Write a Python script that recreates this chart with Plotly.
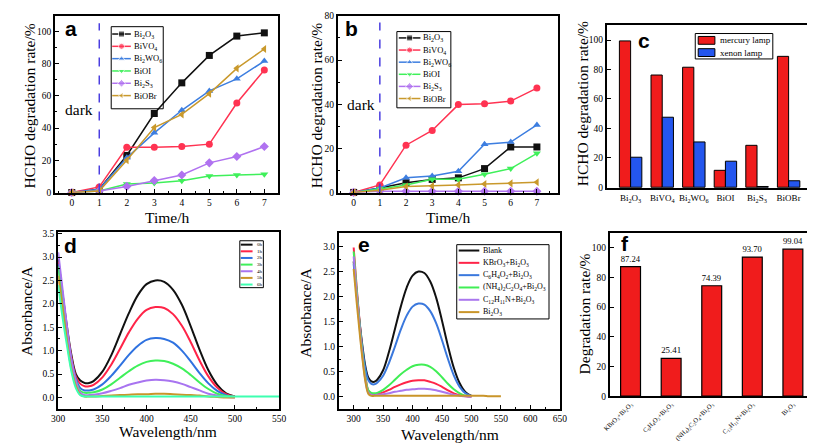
import plotly.graph_objects as go

W, H = 815, 444

# ---- data: (a) mercury lamp, (b) xenon lamp ----
hours = [0, 1, 2, 3, 4, 5, 6, 7]
catalysts = ["Bi<sub>2</sub>O<sub>3</sub>", "BiVO<sub>4</sub>", "Bi<sub>2</sub>WO<sub>6</sub>",
             "BiOI", "Bi<sub>2</sub>S<sub>3</sub>", "BiOBr"]

hg_bi2o3 = [0, 2, 23, 49, 68, 85, 97, 99]
hg_bivo4 = [0, 3.5, 28, 28, 28.5, 30, 55.5, 76]
hg_bi2wo6 = [0, 2, 21.5, 37, 51, 63, 70.5, 81.5]
hg_bioi = [0, 1, 5.3, 5.9, 7.3, 10.3, 10.9, 11.3]
hg_bi2s3 = [0, 1, 3.8, 7.5, 10.9, 18.4, 22.3, 28.5]
hg_biobr = [0, 1, 20, 40.3, 48.4, 61.3, 77, 89]

xe_bi2o3 = [0, 2, 4.4, 5.9, 6.6, 10.8, 20.6, 20.6]
xe_bivo4 = [0, 3.4, 21.4, 28.1, 39.8, 40.2, 41.4, 47.3]
xe_bi2wo6 = [0, 2, 6.6, 7.4, 9.6, 21.8, 22.8, 30.6]
xe_bioi = [0, 1.5, 3.4, 6, 6, 8.2, 10.8, 17.7]
xe_bi2s3 = [0, 0.5, 0.5, 0.5, 0.5, 0.5, 0.5, 0.5]
xe_biobr = [0, 1, 2.7, 2.9, 3.4, 3.8, 4.1, 4.6]

# ---- (c) final rates ----
lamps = ["mercury lamp", "xenon lamp"]
mercury_final = [99.5, 76.3, 81.6, 11.5, 28.5, 89]
xenon_final = [20.4, 47.6, 30.8, 17.7, 0.5, 4.4]

# ---- (d) spectra vs time ----
wl = [300, 305, 310, 315, 320, 325, 330, 335, 340, 350, 360, 370, 380, 390, 400,
      410, 420, 430, 440, 450, 460, 470, 480, 490, 500]
wl_long = wl + [510, 520, 530, 540, 550]
d_names = ["0h", "1h", "2h", "3h", "4h", "5h", "6h"]
abs_0h = [2.95, 2.2, 1.5, 0.9, 0.5, 0.36, 0.31, 0.31, 0.35, 0.55, 0.9, 1.35, 1.8, 2.18, 2.42,
          2.5, 2.47, 2.3, 1.98, 1.52, 1.02, 0.58, 0.27, 0.09, 0.02]
abs_1h = [2.9, 2.15, 1.45, 0.85, 0.45, 0.29, 0.24, 0.24, 0.27, 0.43, 0.7, 1.04, 1.39, 1.68, 1.87,
          1.93, 1.91, 1.78, 1.53, 1.18, 0.79, 0.45, 0.21, 0.07, 0.02]
abs_2h = [2.85, 2.1, 1.4, 0.8, 0.4, 0.2, 0.15, 0.15, 0.17, 0.28, 0.46, 0.68, 0.91, 1.1, 1.23,
          1.27, 1.25, 1.17, 1.0, 0.77, 0.52, 0.3, 0.14, 0.05, 0.01]
abs_3h = [2.8, 2.05, 1.35, 0.75, 0.35, 0.14, 0.1, 0.1, 0.11, 0.17, 0.28, 0.42, 0.56, 0.68, 0.76,
          0.79, 0.78, 0.72, 0.62, 0.48, 0.32, 0.18, 0.08, 0.03, 0.01]
abs_4h = [3.1, 2.3, 1.5, 0.8, 0.35, 0.1, 0.05, 0.05, 0.06, 0.09, 0.14, 0.2, 0.27, 0.32, 0.36,
          0.38, 0.37, 0.34, 0.29, 0.22, 0.15, 0.08, 0.04, 0.01, 0.0]
abs_5h = [2.6, 1.9, 1.2, 0.6, 0.25, 0.06, 0.02, 0.02, 0.02, 0.03, 0.04, 0.05, 0.06, 0.07, 0.07,
          0.08, 0.08, 0.07, 0.06, 0.05, 0.04, 0.02, 0.01, 0.0, 0.0]
abs_6h = [2.4, 1.7, 1.1, 0.55, 0.2, 0.05, 0.02, 0.02, 0.02, 0.02, 0.02, 0.02, 0.02, 0.02, 0.02,
          0.02, 0.02, 0.02, 0.02, 0.02, 0.02, 0.02, 0.02, 0.02, 0.02, 0.02, 0.02, 0.02, 0.02, 0.02]

# ---- (e) scavenger spectra ----
e_names = ["Blank", "KBrO<sub>3</sub>+Bi<sub>2</sub>O<sub>3</sub>",
           "C<sub>6</sub>H<sub>4</sub>O<sub>2</sub>+Bi<sub>2</sub>O<sub>3</sub>",
           "(NH<sub>4</sub>)<sub>2</sub>C<sub>2</sub>O<sub>4</sub>+Bi<sub>2</sub>O<sub>3</sub>",
           "C<sub>12</sub>H<sub>11</sub>N+Bi<sub>2</sub>O<sub>3</sub>", "Bi<sub>2</sub>O<sub>3</sub>"]
e_blank = [2.7, 2.1, 1.5, 1.0, 0.6, 0.38, 0.31, 0.3, 0.34, 0.53, 0.9, 1.35, 1.8, 2.18, 2.42,
           2.5, 2.47, 2.3, 1.98, 1.52, 1.02, 0.58, 0.27, 0.09, 0.02]
e_kbro3 = [2.98, 2.2, 1.5, 0.9, 0.4, 0.12, 0.06, 0.05, 0.06, 0.09, 0.14, 0.2, 0.25, 0.29, 0.32,
           0.33, 0.33, 0.3, 0.26, 0.2, 0.13, 0.07, 0.03, 0.01, 0.0]
e_c6h4o2 = [2.65, 2.05, 1.45, 0.95, 0.55, 0.33, 0.26, 0.25, 0.28, 0.42, 0.68, 1.0, 1.34, 1.62, 1.8,
            1.86, 1.84, 1.71, 1.47, 1.13, 0.76, 0.43, 0.2, 0.07, 0.02]
e_nh4 = [2.9, 2.15, 1.45, 0.85, 0.38, 0.13, 0.08, 0.07, 0.08, 0.14, 0.23, 0.34, 0.45, 0.54, 0.61,
         0.64, 0.64, 0.6, 0.51, 0.39, 0.26, 0.15, 0.07, 0.02, 0.01]
e_c12 = [2.8, 2.05, 1.4, 0.8, 0.33, 0.08, 0.04, 0.03, 0.04, 0.05, 0.07, 0.1, 0.12, 0.14, 0.15,
         0.16, 0.16, 0.15, 0.13, 0.1, 0.07, 0.04, 0.02, 0.01, 0.0]
e_bi2o3 = [2.55, 1.9, 1.3, 0.75, 0.3, 0.06, 0.02, 0.02, 0.02, 0.02, 0.02, 0.02, 0.02, 0.02, 0.02,
           0.02, 0.02, 0.02, 0.02, 0.02, 0.02, 0.02, 0.02, 0.02, 0.02, 0.02, 0.02, 0.01, 0.01, 0.01]

# ---- (f) degradation with scavengers ----
f_labels = e_names[1:]
f_values = [87.24, 25.41, 74.39, 93.70, 99.04]

# styles
serif = "Liberation Serif"
cat_colors = ["#111111", "#ff3352", "#3d7ee0", "#3ff05a", "#b072f0", "#c9992c"]
cat_symbols = ["square", "circle", "triangle-up", "triangle-down", "diamond", "triangle-left"]
d_colors = ["#111111", "#ff2448", "#2f72e0", "#3ff05a", "#a874f0", "#c9952a", "#3dffb0"]
e_colors = ["#111111", "#ff2448", "#3a78dd", "#40ee55", "#aa77ee", "#c9952a"]
dark_color = "#4a3ee0"


def px(x):
    return x / W


def py(y):
    return 1 - y / H


fig = go.Figure()

# a & b line charts
hg_series = [hg_bi2o3, hg_bivo4, hg_bi2wo6, hg_bioi, hg_bi2s3, hg_biobr]
xe_series = [xe_bi2o3, xe_bivo4, xe_bi2wo6, xe_bioi, xe_bi2s3, xe_biobr]
for ax_id, series in [("", hg_series), ("2", xe_series)]:
    for i, vals in enumerate(series):
        fig.add_trace(go.Scatter(
            x=hours, y=vals, xaxis="x" + ax_id, yaxis="y" + ax_id,
            mode="lines+markers", cliponaxis=False,
            line=dict(color=cat_colors[i], width=1.5),
            marker=dict(symbol=cat_symbols[i], size=7, color=cat_colors[i]),
            showlegend=False))

# c bars
fig.add_trace(go.Bar(x=catalysts, y=mercury_final, name=lamps[0], xaxis="x3", yaxis="y3",
                     marker=dict(color="#f01c1c", line=dict(color="black", width=1)), showlegend=False))
fig.add_trace(go.Bar(x=catalysts, y=xenon_final, name=lamps[1], xaxis="x3", yaxis="y3",
                     marker=dict(color="#2456ee", line=dict(color="black", width=1)), showlegend=False))

# d spectra
d_series = [abs_0h, abs_1h, abs_2h, abs_3h, abs_4h, abs_5h, abs_6h]
for i, vals in enumerate(d_series):
    fig.add_trace(go.Scatter(x=wl_long[:len(vals)], y=vals, xaxis="x4", yaxis="y4", mode="lines",
                             line=dict(color=d_colors[i], width=2, shape="spline"), showlegend=False))

# e spectra
e_series = [e_blank, e_kbro3, e_c6h4o2, e_nh4, e_c12, e_bi2o3]
for i, vals in enumerate(e_series):
    fig.add_trace(go.Scatter(x=wl_long[:len(vals)], y=vals, xaxis="x5", yaxis="y5", mode="lines",
                             line=dict(color=e_colors[i], width=2, shape="spline"), showlegend=False))

# f bars
fig.add_trace(go.Bar(x=f_labels, y=f_values, xaxis="x6", yaxis="y6", width=0.49,
                     marker=dict(color="#f01c1c", line=dict(color="black", width=1.2)),
                     texttemplate="%{y:.2f}", textposition="outside", cliponaxis=False,
                     textfont=dict(family=serif, size=9, color="black"), showlegend=False))


# hand drawn legends on an overlay axis in pixel units
def add_legend(box, names, colors, symbols, y0, step, xl0, xl1, xt, fsize, msize, lw):
    fig.add_shape(type="rect", xref="x7", yref="y7", x0=box[0], y0=box[1], x1=box[2], y1=box[3],
                  line=dict(color="black", width=1))
    for i, name in enumerate(names):
        yy = y0 + i * step
        fig.add_trace(go.Scatter(
            x=[xl0, (xl0 + xl1) / 2, xl1], y=[yy] * 3, xaxis="x7", yaxis="y7",
            mode="lines+markers" if symbols else "lines",
            line=dict(color=colors[i], width=lw),
            marker=dict(symbol=symbols[i] if symbols else "circle", size=[0, msize, 0], color=colors[i]),
            showlegend=False, hoverinfo="skip"))
        fig.add_annotation(xref="x7", yref="y7", x=xt, y=yy, text=name, showarrow=False,
                           xanchor="left", yanchor="middle", font=dict(family=serif, size=fsize, color="black"))


add_legend((97, 14, 150, 98), catalysts, cat_colors, cat_symbols, 21.5, 12.6, 98, 117, 118, 8.5, 6, 1.5)
add_legend((388, 19, 443, 97), catalysts, cat_colors, cat_symbols, 25.5, 12.4, 390, 412, 413, 8.5, 6, 1.5)
add_legend((228, 233, 252, 281), d_names, d_colors, None, 237, 6.8, 229, 241, 243, 5, 0, 2)
add_legend((449, 237, 543, 313), e_names, e_colors, None, 243, 12.6, 451, 472, 474, 8, 0, 2)

# c legend with swatches
fig.add_shape(type="rect", xref="x7", yref="y7", x0=692, y0=21, x1=771, y1=47, line=dict(color="black", width=1))
for i, (lab, col) in enumerate(zip(lamps, ["#f01c1c", "#2456ee"])):
    yy = 28 + i * 12.5
    fig.add_shape(type="rect", xref="x7", yref="y7", x0=695, y0=yy - 4, x1=712, y1=yy + 4,
                  fillcolor=col, line=dict(color="black", width=1))
    fig.add_annotation(xref="x7", yref="y7", x=715, y=yy, text=lab, showarrow=False, xanchor="left",
                       yanchor="middle", font=dict(family=serif, size=9, color="black"))

# dark lines
fig.add_shape(type="line", xref="x", yref="y", x0=1, x1=1, y0=0, y1=105,
              line=dict(color=dark_color, width=1.5, dash="dash"))
fig.add_shape(type="line", xref="x2", yref="y2", x0=1, x1=1, y0=0, y1=77,
              line=dict(color=dark_color, width=1.5, dash="dash"))

title_font = dict(family=serif, size=15.5, color="black")
texts = [
    (64, 99, "dark", 0), (351, 94, "dark", 0),
    (14, 95, "HCHO degradation rate/%", -90), (154, 209, "Time/h", 0),
    (307, 95, "HCHO degradation rate/%", -90), (440, 209, "Time/h", 0),
    (578, 93, "HCHO degradation rate/%", -90),
    (10, 305, "Absorbance/A", -90), (155, 428, "Wavelength/nm", 0),
    (295, 307, "Absorbance/A", -90), (442, 431, "Wavelength/nm", 0),
    (579, 308, "Degradation rate/%", -90),
]
for x, y, t, ang in texts:
    fig.add_annotation(xref="paper", yref="paper", x=px(x), y=py(y), text=t, textangle=ang,
                       showarrow=False, xanchor="center", yanchor="middle", font=title_font)

for x, y, t in [(56, 16, "a"), (342, 16, "b"), (640, 28, "c"), (56, 238, "d"), (355, 237, "e"), (620, 236, "f")]:
    fig.add_annotation(xref="paper", yref="paper", x=px(x), y=py(y), text="<b>" + t + "</b>",
                       showarrow=False, xanchor="center", yanchor="middle",
                       font=dict(family="Liberation Sans", size=21, color="black"))

tick_font = dict(family=serif, size=9.5, color="black")


def axis(domain, rng, anchor, **kw):
    d = dict(domain=domain, range=rng, anchor=anchor, showline=True, linecolor="black", linewidth=2,
             mirror=True, ticks="inside", ticklen=4, tickcolor="black", showgrid=False,
             zeroline=False, tickfont=tick_font)
    d.update(kw)
    return d


ya_dom = [py(184), py(3)]
fig.update_layout(
    width=W, height=H, margin=dict(l=0, r=0, t=0, b=0),
    paper_bgcolor="white", plot_bgcolor="rgba(0,0,0,0)",
    barmode="group", bargap=0.29, bargroupgap=0,
    xaxis=axis([px(40), px(267)], [-0.6, 7.5], "y", dtick=1, minor=dict(ticks="inside", ticklen=2, dtick=0.5)),
    yaxis=axis(ya_dom, [-0.2, 109.5], "x", dtick=20, minor=dict(ticks="inside", ticklen=2, dtick=10)),
    xaxis2=axis([px(328), px(552)], [-0.6, 7.8], "y2", dtick=1, minor=dict(ticks="inside", ticklen=2, dtick=0.5)),
    yaxis2=axis(ya_dom, [-0.2, 80], "x2", dtick=20, minor=dict(ticks="inside", ticklen=2, dtick=10)),
    xaxis3=axis([px(602), px(809)], [-0.75, 5.68], "y3", ticks="",
                tickfont=dict(family=serif, size=9, color="black")),
    yaxis3=axis([py(179), py(12)], [-0.5, 110.5], "x3", tickvals=[0, 20, 40, 60, 80, 100]),
    xaxis4=axis([px(43), px(268)], [300, 550], "y4", dtick=50, minor=dict(ticks="inside", ticklen=2, dtick=25)),
    yaxis4=axis([py(405), py(224)], [-0.244, 3.535], "x4", dtick=0.5, tickformat=".1f",
                minor=dict(ticks="inside", ticklen=2, dtick=0.25)),
    xaxis5=axis([px(329), px(554)], [275, 650], "y5", dtick=50, tick0=300,
                minor=dict(ticks="inside", ticklen=2, dtick=25)),
    yaxis5=axis([py(405), py(225)], [-0.24, 3.27], "x5", dtick=0.5, tickformat=".1f",
                minor=dict(ticks="inside", ticklen=2, dtick=0.25)),
    xaxis6=axis([px(605), px(808)], [-0.51, 4.4], "y6", ticks="", tickangle=-45,
                tickfont=dict(family=serif, size=6.5, color="black")),
    yaxis6=axis([py(392), py(225)], [0, 110], "x6", tickvals=[0, 20, 40, 60, 80, 100]),
    xaxis7=dict(domain=[0, 1], range=[0, W], visible=False, anchor="y7", fixedrange=True),
    yaxis7=dict(domain=[0, 1], range=[H, 0], visible=False, anchor="x7", fixedrange=True),
)

fig.write_html("out.html")
